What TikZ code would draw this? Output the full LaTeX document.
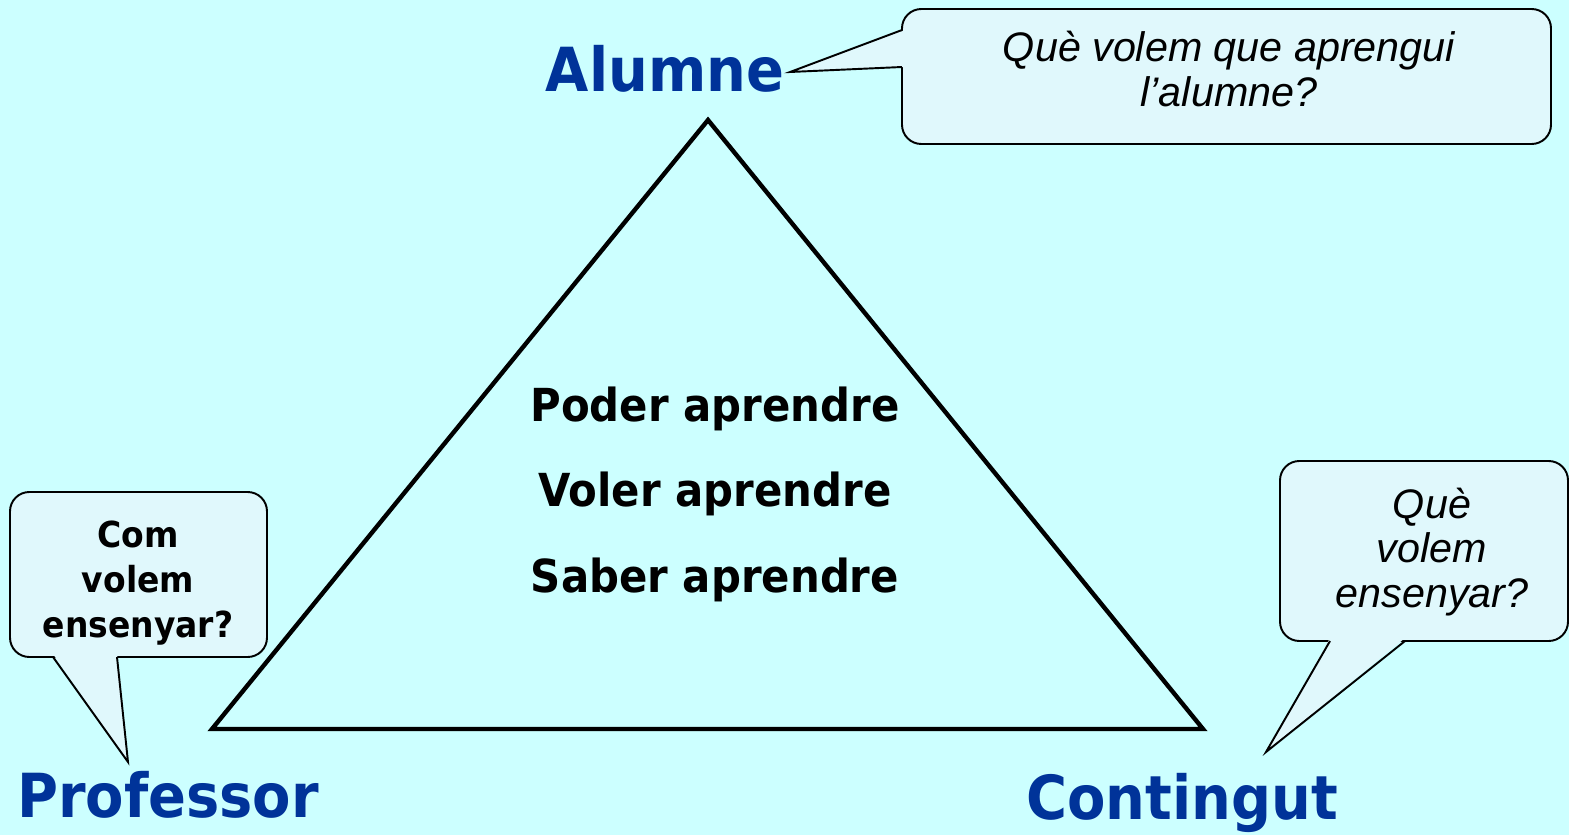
\documentclass[tikz,border=0pt]{standalone}
\usepackage{fontspec}
\usepackage{tikz}
\setmainfont[FakeStretch=0.92]{DejaVu Sans}
\newfontfamily\arial{Liberation Sans}
\definecolor{fons}{RGB}{204,255,255}
\definecolor{blau}{RGB}{0,51,153}
\definecolor{bfons}{RGB}{224,248,252}

\tikzset{
  vertex/.style={text=blau, inner sep=0pt, anchor=base,
    font=\bfseries\fontsize{34.6}{40}\selectfont},
  frase/.style={inner sep=0pt, anchor=base,
    font=\bfseries\fontsize{25.9}{30}\selectfont},
  bombolla/.style={draw=black, line width=1.1pt, fill=bfons, rounded corners=11pt},
  punta/.style={draw=black, line width=1.1pt, line join=miter},
  pregunta/.style={inner sep=0pt, align=center,
    font=\arial\itshape\fontsize{23.5}{25.5}\selectfont},
  preguntab/.style={inner sep=0pt, align=center,
    font=\bfseries\fontsize{20.4}{25.5}\selectfont}
}

\begin{document}
\begin{tikzpicture}[x=0.02cm,y=-0.02cm, line join=miter]
\fill[fons] (0,0) rectangle (1569,835);
\useasboundingbox (0,0) rectangle (1569,835);

% triangle
\coordinate (A) at (708,120);
\coordinate (P) at (212,729);
\coordinate (C) at (1203,729);
\draw[line width=2.5pt] (A) -- (P) -- (C) -- cycle;

% vertices
\node[vertex] (alumne) at (665,91) {Alumne};
\node[vertex] (professor) at (168,817) {Professor};
\node[vertex] (contingut) at (1182,819) {Contingut};

% inside
\node[frase] (poder) at (715,421) {Poder aprendre};
\node[frase] (voler) at (715,506) {Voler aprendre};
\node[frase] (saber) at (715,592) {Saber aprendre};

% bubbles
\coordinate (puntaA) at (790,72);
\coordinate (puntaP) at (128,762);
\coordinate (puntaC) at (1266,752);

\draw[bombolla] (902,9) rectangle (1551,144);
\fill[bfons] (905,30) -- (puntaA) -- (905,67) -- cycle;
\draw[punta] (902,30) -- (puntaA) -- (902,67);
\node[pregunta] (qalumne) at (1229,69) {Què volem que aprengui\\l’alumne?};

\draw[bombolla] (10,492) rectangle (267,657);
\fill[bfons] (53,654) -- (puntaP) -- (117,654) -- cycle;
\draw[punta] (53,657) -- (puntaP) -- (117,657);
\node[preguntab] (qprofessor) at (138,583) {Com\\volem\\ensenyar?};

\draw[bombolla] (1280,461) rectangle (1568,641);
\fill[bfons] (1330,638) -- (puntaC) -- (1405,638) -- cycle;
\draw[punta] (1330,641) -- (puntaC) -- (1405,641);
\node[pregunta] (qcontingut) at (1432,552) {Què\\volem\\ensenyar?};
\end{tikzpicture}
\end{document}
